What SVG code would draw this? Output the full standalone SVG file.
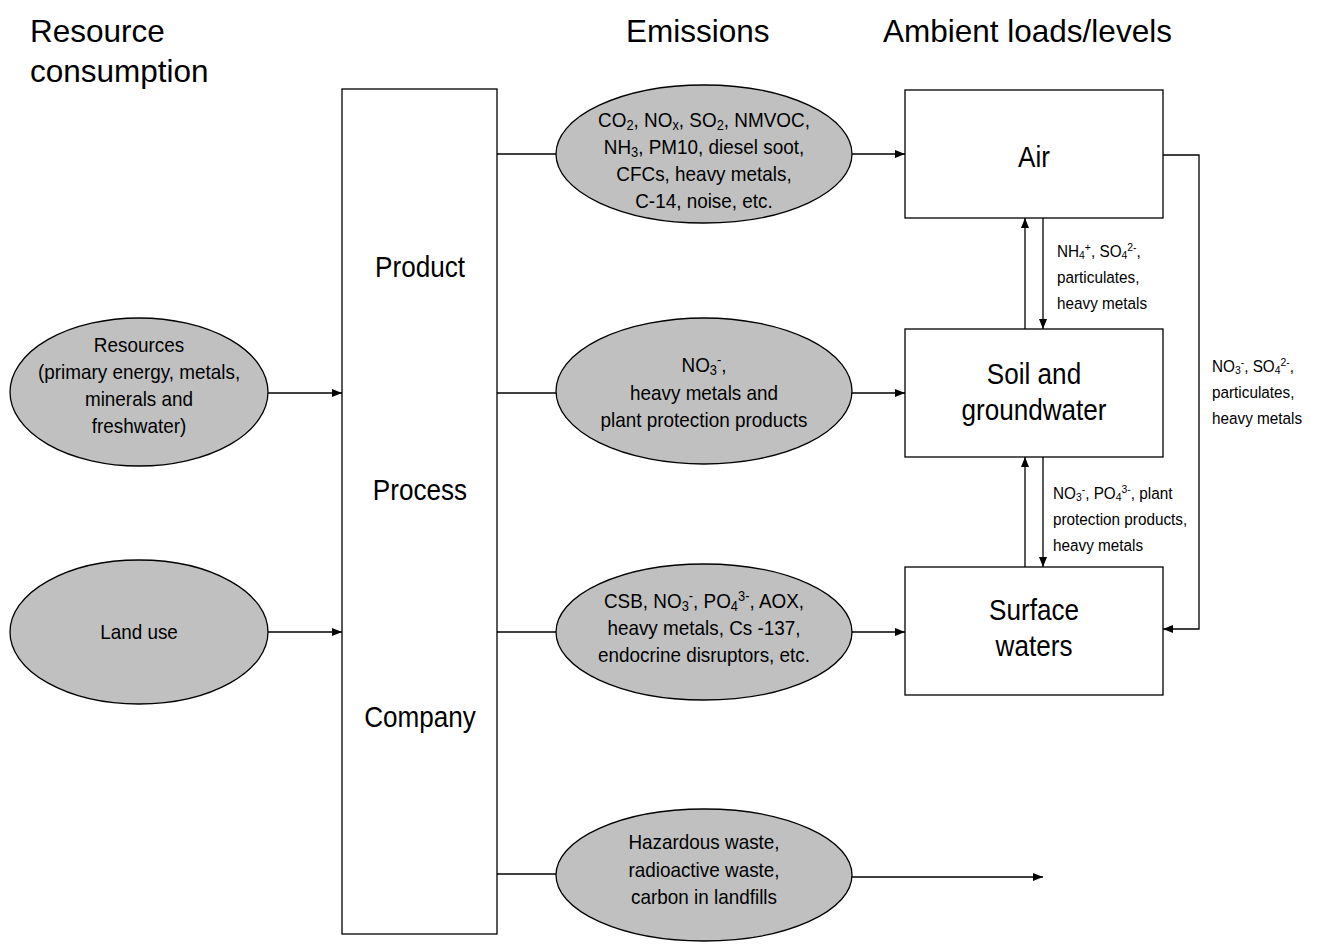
<svg xmlns="http://www.w3.org/2000/svg" width="1321" height="951" viewBox="0 0 1321 951">
<style>
text{font-family:"Liberation Sans",Arial,sans-serif;fill:#000}
.hdr{font-size:31.5px}
.box{font-size:29px;text-anchor:middle}
.ell{font-size:21px;text-anchor:middle}
.lbl{font-size:17px}
.node rect{fill:#fff;stroke:#000;stroke-width:1.3}
.node ellipse{fill:#c0c0c0;stroke:#000;stroke-width:1.3}
.conn line,.conn polyline{stroke:#000;stroke-width:1.3;fill:none}
.s{font-size:68%;baseline-shift:-0.22em}
.p{font-size:68%;baseline-shift:0.55em}
</style>
<defs>
<marker id="ah" viewBox="0 0 10 8" refX="10" refY="4" markerWidth="10" markerHeight="8" markerUnits="userSpaceOnUse" orient="auto">
<path d="M0,0 L10,4 L0,8 Z" fill="#000"/>
</marker>
</defs>
<rect width="1321" height="951" fill="#fff"/>

<g id="headers">
<text class="hdr" x="30" y="42">Resource</text>
<text class="hdr" x="30" y="82">consumption</text>
<text class="hdr" x="626" y="42">Emissions</text>
<text class="hdr" x="883" y="42">Ambient loads/levels</text>
</g>

<g id="ppc" class="node">
<rect x="342" y="89" width="155" height="845"/>
<text class="box" transform="translate(420 277) scale(0.9 1)">Product</text>
<text class="box" transform="translate(420 500) scale(0.9 1)">Process</text>
<text class="box" transform="translate(420 727) scale(0.9 1)">Company</text>
</g>

<g id="resources" class="node">
<ellipse cx="139" cy="392" rx="129" ry="74"/>
<text class="ell" transform="translate(139 0) scale(0.9 1)"><tspan x="0" y="352">Resources</tspan><tspan x="0" y="379">(primary energy, metals,</tspan><tspan x="0" y="406">minerals and</tspan><tspan x="0" y="433">freshwater)</tspan></text>
</g>

<g id="landuse" class="node">
<ellipse cx="139" cy="632" rx="129" ry="72"/>
<text class="ell" transform="translate(139 639) scale(0.9 1)">Land use</text>
</g>

<g id="em-air" class="node">
<ellipse cx="704" cy="154" rx="148" ry="69"/>
<text class="ell" transform="translate(704 0) scale(0.9 1)"><tspan x="0" y="127">CO<tspan class="s">2</tspan>, NO<tspan class="s">x</tspan>, SO<tspan class="s">2</tspan>, NMVOC,</tspan><tspan x="0" y="154">NH<tspan class="s">3</tspan>, PM10, diesel soot,</tspan><tspan x="0" y="181">CFCs, heavy metals,</tspan><tspan x="0" y="208">C-14, noise, etc.</tspan></text>
</g>

<g id="em-soil" class="node">
<ellipse cx="704" cy="391" rx="148" ry="73"/>
<text class="ell" transform="translate(704 0) scale(0.9 1)"><tspan x="0" y="372">NO<tspan class="s">3</tspan><tspan class="p">-</tspan>,</tspan><tspan x="0" y="400">heavy metals and</tspan><tspan x="0" y="427">plant protection products</tspan></text>
</g>

<g id="em-water" class="node">
<ellipse cx="704" cy="632" rx="148" ry="68"/>
<text class="ell" transform="translate(704 0) scale(0.9 1)"><tspan x="0" y="608">CSB, NO<tspan class="s">3</tspan><tspan class="p">-</tspan>, PO<tspan class="s">4</tspan><tspan class="p">3-</tspan>, AOX,</tspan><tspan x="0" y="635">heavy metals, Cs -137,</tspan><tspan x="0" y="662">endocrine disruptors, etc.</tspan></text>
</g>

<g id="em-waste" class="node">
<ellipse cx="704" cy="875" rx="148" ry="66"/>
<text class="ell" transform="translate(704 0) scale(0.9 1)"><tspan x="0" y="849">Hazardous waste,</tspan><tspan x="0" y="877">radioactive waste,</tspan><tspan x="0" y="904">carbon in landfills</tspan></text>
</g>

<g id="air" class="node">
<rect x="905" y="90" width="258" height="128"/>
<text class="box" transform="translate(1034 167) scale(0.9 1)">Air</text>
</g>

<g id="soil" class="node">
<rect x="905" y="329" width="258" height="128"/>
<text class="box" transform="translate(1034 0) scale(0.9 1)"><tspan x="0" y="384">Soil and</tspan><tspan x="0" y="420">groundwater</tspan></text>
</g>

<g id="surface" class="node">
<rect x="905" y="567" width="258" height="128"/>
<text class="box" transform="translate(1034 0) scale(0.9 1)"><tspan x="0" y="620">Surface</tspan><tspan x="0" y="656">waters</tspan></text>
</g>

<g id="connectors" class="conn">
<line x1="268" y1="393" x2="342" y2="393" marker-end="url(#ah)"/>
<line x1="268" y1="632" x2="342" y2="632" marker-end="url(#ah)"/>
<line x1="497" y1="154" x2="556" y2="154"/>
<line x1="497" y1="393" x2="556" y2="393"/>
<line x1="497" y1="632" x2="556" y2="632"/>
<line x1="497" y1="874" x2="556" y2="874"/>
<line x1="852" y1="154" x2="905" y2="154" marker-end="url(#ah)"/>
<line x1="852" y1="393" x2="905" y2="393" marker-end="url(#ah)"/>
<line x1="852" y1="632" x2="905" y2="632" marker-end="url(#ah)"/>
<line x1="852" y1="877" x2="1043" y2="877" marker-end="url(#ah)"/>
<line x1="1025" y1="329" x2="1025" y2="218" marker-end="url(#ah)"/>
<line x1="1043" y1="218" x2="1043" y2="329" marker-end="url(#ah)"/>
<line x1="1025" y1="567" x2="1025" y2="457" marker-end="url(#ah)"/>
<line x1="1043" y1="457" x2="1043" y2="567" marker-end="url(#ah)"/>
<polyline points="1163,155 1199,155 1199,629 1163,629" marker-end="url(#ah)"/>
</g>

<g id="labels">
<text class="lbl" transform="translate(1057 0) scale(0.9 1)"><tspan x="0" y="257">NH<tspan class="s">4</tspan><tspan class="p">+</tspan>, SO<tspan class="s">4</tspan><tspan class="p">2-</tspan>,</tspan><tspan x="0" y="283">particulates,</tspan><tspan x="0" y="309">heavy metals</tspan></text>
<text class="lbl" transform="translate(1053 0) scale(0.9 1)"><tspan x="0" y="499">NO<tspan class="s">3</tspan><tspan class="p">-</tspan>, PO<tspan class="s">4</tspan><tspan class="p">3-</tspan>, plant</tspan><tspan x="0" y="525">protection products,</tspan><tspan x="0" y="551">heavy metals</tspan></text>
<text class="lbl" transform="translate(1212 0) scale(0.9 1)"><tspan x="0" y="372">NO<tspan class="s">3</tspan><tspan class="p">-</tspan>, SO<tspan class="s">4</tspan><tspan class="p">2-</tspan>,</tspan><tspan x="0" y="398">particulates,</tspan><tspan x="0" y="424">heavy metals</tspan></text>
</g>
</svg>
